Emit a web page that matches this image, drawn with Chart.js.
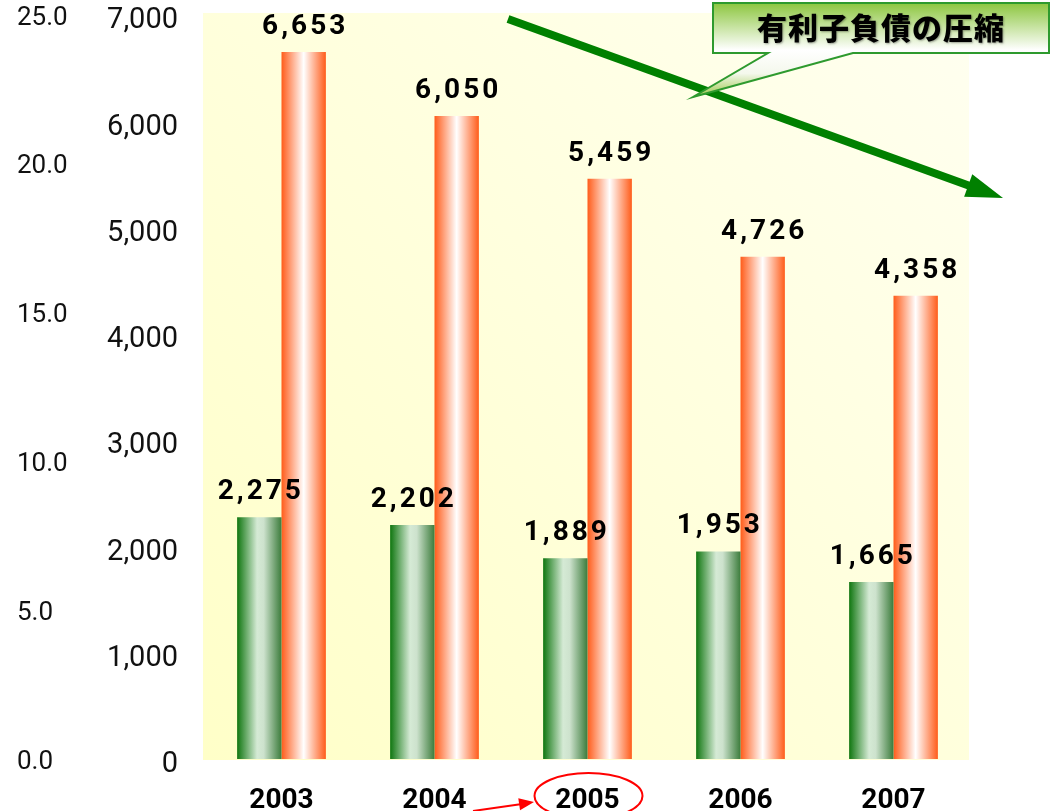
<!DOCTYPE html>
<html><head><meta charset="utf-8">
<script src="https://cdn.jsdelivr.net/npm/chart.js@4/dist/chart.umd.min.js"></script>
<style>html,body{margin:0;padding:0;background:#fff}#wrap{width:1050px;height:811px;position:relative}</style>
</head><body><div id="wrap"><canvas id="c"></canvas></div>
<script>
const categories = ['2003', '2004', '2005', '2006', '2007'];
const greenValues = [2275, 2202, 1889, 1953, 1665];
const orangeValues = [6653, 6050, 5459, 4726, 4358];
const leftAxisRange = [0, 7000, 1000];
const outerAxisRange = [0, 25, 5];
const calloutText = '有利子負債の圧縮';

const gradStops = [
  [[0, '#0f760f'], [0.45, '#d5ead5'], [0.6, '#cde2cd'], [1, '#3c7c3c']],
  [[0, '#ff5c1a'], [0.5, '#ffffff'], [1, '#ff5c1a']]
];

function arrowHead(ctx, x0, y0, x1, y1, len, half) {
  const a = Math.atan2(y1 - y0, x1 - x0);
  const bx = x1 - len * Math.cos(a), by = y1 - len * Math.sin(a);
  ctx.beginPath();
  ctx.moveTo(x1, y1);
  ctx.lineTo(bx + half * Math.sin(a), by - half * Math.cos(a));
  ctx.lineTo(bx - half * Math.sin(a), by + half * Math.cos(a));
  ctx.closePath();
  ctx.fill();
  return [bx, by];
}

const decoPlugin = {
  id: 'deco',
  beforeDraw(chart) {
    const {ctx, chartArea: a} = chart;
    ctx.save();
    const g = ctx.createLinearGradient(a.left, a.bottom, a.right, a.top);
    g.addColorStop(0, '#ffffc8');
    g.addColorStop(1, '#fffff0');
    ctx.fillStyle = g;
    ctx.fillRect(a.left - 2, a.top - 2, a.right - a.left + 1, a.bottom - a.top + 3);
    ctx.restore();
  },
  beforeDatasetsDraw(chart) {
    const ctx = chart.ctx;
    chart.data.datasets.forEach((ds, di) => {
      chart.getDatasetMeta(di).data.forEach(el => {
        const gr = ctx.createLinearGradient(el.x - el.width / 2, 0, el.x + el.width / 2, 0);
        gradStops[di].forEach(([o, c]) => gr.addColorStop(o, c));
        el.options = Object.assign({}, el.options, {backgroundColor: gr});
      });
    });
  },
  afterDatasetsDraw(chart) {
    const ctx = chart.ctx;
    ctx.save();
    ctx.font = 'bold 28px Roboto';
    ctx.letterSpacing = '3px';
    ctx.fillStyle = '#000';
    ctx.textAlign = 'center';
    ctx.textBaseline = 'middle';
    chart.data.datasets.forEach((ds, di) => {
      chart.getDatasetMeta(di).data.forEach((el, i) => {
        const s = ds.data[i].toLocaleString('en-US');
        ctx.fillText(s, el.x + 1.5, el.y - 25);
      });
    });
    ctx.restore();
  },
  afterDraw(chart) {
    const ctx = chart.ctx;
    ctx.save();
    // big green arrow
    ctx.strokeStyle = '#008000';
    ctx.fillStyle = '#008000';
    ctx.lineWidth = 8;
    const [bx, by] = [1003, 198];
    const sx = 508, sy = 19;
    const a = Math.atan2(by - sy, bx - sx);
    ctx.beginPath();
    ctx.moveTo(sx, sy);
    ctx.lineTo(bx - 30 * Math.cos(a), by - 30 * Math.sin(a));
    ctx.stroke();
    arrowHead(ctx, sx, sy, bx, by, 37, 12);

    // callout
    const cg = ctx.createLinearGradient(0, 3, 0, 97);
    cg.addColorStop(0, '#8cc63f');
    cg.addColorStop(0.5, '#ffffff');
    cg.addColorStop(0.75, '#f4f8ec');
    cg.addColorStop(1, '#9cc84a');
    ctx.beginPath();
    ctx.moveTo(713, 3); ctx.lineTo(1049, 3); ctx.lineTo(1049, 53);
    ctx.lineTo(853, 53); ctx.lineTo(693, 97); ctx.lineTo(768, 53);
    ctx.lineTo(713, 53); ctx.closePath();
    ctx.fillStyle = cg;
    ctx.fill();
    ctx.lineWidth = 2;
    ctx.strokeStyle = '#2e9a2e';
    ctx.stroke();

    ctx.font = '900 30px "Noto Sans CJK JP"';
    ctx.letterSpacing = '1px';
    ctx.textAlign = 'center';
    ctx.textBaseline = 'middle';
    ctx.shadowColor = 'rgba(0,0,0,0.35)';
    ctx.shadowOffsetX = 1; ctx.shadowOffsetY = 1; ctx.shadowBlur = 2;
    ctx.fillStyle = '#000';
    ctx.fillText(calloutText, 881, 28);
    ctx.shadowColor = 'transparent';

    // red ellipse & arrow
    ctx.letterSpacing = '0px';
    ctx.strokeStyle = '#ff0000';
    ctx.fillStyle = '#ff0000';
    ctx.lineWidth = 2;
    const xs = chart.scales.x;
    const cx = xs.getPixelForValue(2);
    ctx.beginPath();
    ctx.ellipse(cx + 1, 796, 54, 23, 0, 0, Math.PI * 2);
    ctx.stroke();
    ctx.beginPath();
    ctx.moveTo(473, 811);
    ctx.lineTo(522, 804);
    ctx.stroke();
    arrowHead(ctx, 473, 811, 534, 802, 15, 6);
    ctx.restore();
  }
};

new Chart(document.getElementById('c'), {
  type: 'bar',
  data: {
    labels: categories,
    datasets: [
      {data: greenValues, backgroundColor: '#6aa86a', borderWidth: 0, yAxisID: 'y'},
      {data: orangeValues, backgroundColor: '#ff9060', borderWidth: 0, yAxisID: 'y'}
    ]
  },
  options: {
    responsive: true,
    maintainAspectRatio: false,
    animation: false,
    layout: {padding: {left: 17, right: 80, top: 15, bottom: 0}},
    datasets: {bar: {barPercentage: 1.0, categoryPercentage: 0.58}},
    plugins: {legend: {display: false}, tooltip: {enabled: false}},
    scales: {
      x: {
        grid: {display: false, drawTicks: false},
        border: {display: false},
        ticks: {font: {family: 'Roboto', size: 28, weight: 'bold'}, color: '#000', padding: 25},
        afterFit(s) { s.height = 52; s.paddingLeft = 0; s.paddingRight = 0; }
      },
      y: {
        position: 'left', weight: 0,
        min: leftAxisRange[0], max: leftAxisRange[1],
        grid: {display: false, drawTicks: false},
        border: {display: false},
        ticks: {stepSize: leftAxisRange[2], font: {family: 'Roboto', size: 29}, color: '#111', padding: 27, labelOffset: 6,
          callback: v => v.toLocaleString('en-US')},
        afterFit(s) { s.width = 105; s.paddingTop = 0; s.paddingBottom = 0; }
      },
      y2: {
        position: 'left', weight: 10,
        min: outerAxisRange[0], max: outerAxisRange[1],
        grid: {display: false, drawTicks: false},
        border: {display: false},
        ticks: {stepSize: outerAxisRange[2], font: {family: 'Roboto', size: 26}, color: '#111', crossAlign: 'far', labelOffset: 3,
          callback: v => v.toFixed(1)},
        afterFit(s) { s.width = 83; s.paddingTop = 0; s.paddingBottom = 0; }
      }
    }
  },
  plugins: [decoPlugin]
});
</script></body></html>
